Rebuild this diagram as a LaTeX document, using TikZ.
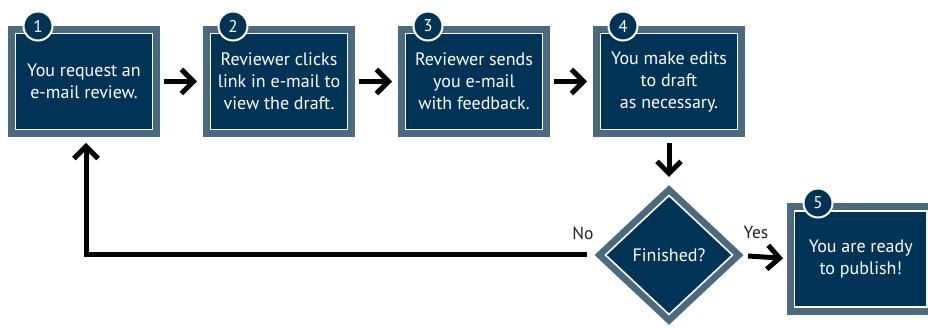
\documentclass[tikz,border=0pt]{standalone}
\usepackage{fontspec}
\setmainfont{PT Sans}
\usetikzlibrary{arrows.meta,shapes.geometric}

\definecolor{navy}{RGB}{0,52,87}
\definecolor{steel}{RGB}{76,106,125}
\definecolor{ink}{RGB}{35,31,32}

\tikzset{
  stepbox/.style={rectangle, fill=navy, draw=white, line width=1.6pt,
    minimum width=137pt, minimum height=96pt, inner sep=0pt, outer sep=0pt,
    align=center, text=white, font=\fontsize{18}{22}\selectfont,
    preaction={draw=steel, line width=15pt}},
  askbox/.style={diamond, fill=navy, draw=white, line width=1.6pt,
    minimum width=127pt, minimum height=119pt, inner sep=0pt, outer sep=0pt,
    align=center, text=white, font=\fontsize{18}{22}\selectfont,
    preaction={draw=steel, line width=15pt}},
  badge/.style={circle, fill=navy, draw=white, line width=2pt,
    minimum size=29pt, inner sep=0pt, text=white, font=\fontsize{17}{17}\selectfont},
  arr/.style={line width=5pt, draw=black, -{Straight Barb[length=12pt,width=24pt]}},
  lbl/.style={text=ink, font=\fontsize{17.5}{17.5}\selectfont}
}

\begin{document}
\begin{tikzpicture}[x=1pt,y=-1pt]
  \useasboundingbox (0,0) rectangle (928,328);

  % steps along the top
  \node[stepbox] (b1) at (84,81.5) {You request an\\e-mail review.};
  \node[stepbox] (b2) at (279,81.5) {Reviewer clicks\\link in e-mail to\\view the draft.};
  \node[stepbox] (b3) at (474,81.5) {Reviewer sends\\you e-mail\\with feedback.};
  \node[stepbox] (b4) at (669,81.5) {You make edits\\to draft\\as necessary.};

  % decision and last step
  \node[askbox] (dia) at (669,255) {Finished?};
  \node[stepbox, minimum width=132.5pt] (b5) at (860.75,259) {You are ready\\to publish!};

  % numbers
  \node[badge] (n1) at (38,26) {1};
  \node[badge] (n2) at (233,26) {2};
  \node[badge] (n3) at (428,26) {3};
  \node[badge] (n4) at (623,26) {4};
  \node[badge] (n5) at (818,203) {5};

  \draw[arr, shorten <=11.5pt, shorten >=13.5pt] (b1.east) -- (b2.west);
  \draw[arr, shorten <=11.5pt, shorten >=13.5pt] (b2.east) -- (b3.west);
  \draw[arr, shorten <=11.5pt, shorten >=13.5pt] (b3.east) -- (b4.west);
  \draw[arr, shorten <=13.5pt, shorten >=18.6pt] (b4.south) -- (dia.north);
  \draw[arr, shorten <=15.6pt, shorten >=11.5pt] (dia.east) -- (b5.west);
  \draw[arr, shorten <=18.6pt, shorten >=13.5pt] (dia.west) -| ([xshift=2pt]b1.south);

  \node[lbl] (no) at (583,233) {No};
  \node[lbl] (yes) at (756,232) {Yes};
\end{tikzpicture}
\end{document}
